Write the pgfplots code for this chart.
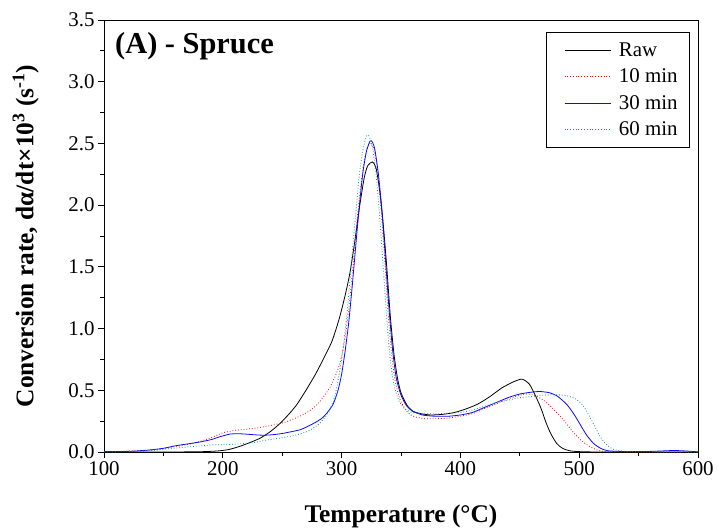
\documentclass[border=0pt]{standalone}
\usepackage{fontspec}
\setmainfont{Liberation Serif}
\usepackage{pgfplots}
\pgfplotsset{compat=1.18}
\definecolor{tealc}{RGB}{0,150,150}
\definecolor{blueline}{RGB}{10,10,255}
\begin{document}
\begin{tikzpicture}
\begin{axis}[
  scale only axis,
  width=594bp, height=432bp,
  xmin=100, xmax=600, ymin=0, ymax=3.5,
  xtick={100,200,...,600},
  ytick={0,0.5,...,3.5},
  minor x tick num=1, minor y tick num=1,
  tick pos=left,
  tick align=outside,
  major tick length=6bp, minor tick length=3.5bp,
  every tick/.style={black, line width=0.8pt},
  axis line style={line width=0.9pt},
  /pgf/number format/assume math mode=true,
  yticklabel style={/pgf/number format/.cd, fixed, fixed zerofill, precision=1},
  xticklabel style={/pgf/number format/.cd, fixed, precision=0},
  ticklabel style={font=\fontsize{21}{24}\selectfont},
  xlabel={\textbf{Temperature (°C)}},
  ylabel={\textbf{Conversion rate, dα/dt×10\textsuperscript{3} (s\textsuperscript{-1})}},
  label style={font=\fontsize{25.5}{28}\selectfont},
  xlabel style={at={(0.5,-0.15)}, anchor=center},
  ylabel style={at={(-0.132,0.5)}, anchor=center},
  legend style={at={(rel axis cs:0.9865,0.972)}, anchor=north east, draw=black, line width=0.8pt, font=\fontsize{21}{24}\selectfont, row sep=7.2bp, inner xsep=10bp, inner ysep=8bp},
  legend cell align=left,
  legend image code/.code={\path (-8bp,0bp); \draw[line width=1.1pt, #1] (0bp,0bp) -- (46bp,0bp); \path (52bp,0bp);},
  every axis plot/.append style={line width=0.8pt},
]
\addplot[black, smooth, tension=0.4, forget plot] coordinates {
(100,0) (150,0) (180,0.002) (195,0.008) (205,0.02) (215,0.048) (225,0.085) (232,0.115) (240,0.165) (248,0.23) (255,0.3) (262,0.38) (270,0.5) (278,0.63) (285,0.76) (292,0.9) (298,1.08) (303,1.27) (307,1.45) (311,1.7) (315,1.98) (319,2.22) (322,2.32) (326,2.35) (329,2.3) (332,2.12) (335,1.85) (338,1.5) (341,1.1) (344,0.8) (347,0.6) (350,0.48) (355,0.38) (360,0.33) (367,0.31) (375,0.30) (385,0.305) (395,0.32) (405,0.35) (415,0.39) (425,0.45) (435,0.52) (445,0.57) (452,0.59) (458,0.55) (463,0.46) (468,0.35) (472,0.24) (476,0.15) (481,0.07) (486,0.03) (492,0.01) (500,0.003) (520,0) (600,0)
};
\addplot[red, dotted, smooth, tension=0.4, forget plot] coordinates {
(100,0.003) (140,0.015) (160,0.045) (175,0.07) (190,0.115) (200,0.155) (210,0.175) (220,0.185) (232,0.2) (243,0.22) (252,0.24) (260,0.27) (267,0.3) (274,0.34) (280,0.39) (285,0.45) (290,0.52) (294,0.6) (298,0.7) (301,0.82) (304,1.0) (307,1.25) (310,1.55) (313,1.88) (316,2.15) (319,2.36) (322,2.47) (324,2.5) (327,2.46) (330,2.3) (333,2.0) (336,1.6) (339,1.15) (342,0.8) (345,0.58) (349,0.43) (354,0.34) (360,0.29) (370,0.27) (380,0.27) (390,0.275) (400,0.29) (410,0.31) (420,0.35) (430,0.39) (440,0.43) (450,0.46) (456,0.47) (462,0.46) (470,0.42) (477,0.36) (484,0.29) (490,0.22) (496,0.15) (502,0.09) (508,0.05) (514,0.02) (520,0.005) (540,0) (600,0)
};
\addplot[blueline, smooth, tension=0.4, forget plot] coordinates {
(100,0.003) (120,0.005) (130,0.01) (140,0.018) (150,0.03) (160,0.05) (170,0.065) (180,0.08) (190,0.1) (198,0.125) (206,0.145) (212,0.148) (218,0.146) (226,0.14) (234,0.136) (242,0.14) (250,0.15) (258,0.165) (265,0.18) (271,0.205) (277,0.235) (283,0.27) (288,0.32) (293,0.39) (297,0.5) (300,0.63) (303,0.82) (306,1.05) (309,1.35) (312,1.68) (315,2.0) (318,2.27) (321,2.44) (324,2.52) (326,2.51) (328,2.45) (331,2.25) (334,1.95) (337,1.55) (340,1.15) (343,0.82) (346,0.6) (350,0.46) (355,0.37) (360,0.33) (368,0.30) (378,0.29) (390,0.29) (400,0.30) (410,0.32) (420,0.36) (430,0.40) (440,0.44) (450,0.47) (460,0.485) (467,0.49) (475,0.48) (482,0.45) (490,0.38) (496,0.30) (501,0.22) (506,0.14) (512,0.07) (518,0.03) (524,0.01) (535,0.005) (560,0.005) (580,0.012) (595,0.005) (600,0)
};
\addplot[tealc, dotted, smooth, tension=0.4, forget plot] coordinates {
(100,0) (130,0.005) (150,0.022) (170,0.04) (190,0.057) (210,0.063) (225,0.075) (237,0.097) (250,0.115) (262,0.138) (272,0.17) (280,0.22) (285,0.27) (290,0.34) (294,0.44) (297,0.58) (300,0.75) (303,0.98) (306,1.28) (309,1.62) (312,1.95) (315,2.25) (318,2.45) (321,2.56) (323,2.56) (326,2.47) (329,2.25) (332,1.92) (335,1.5) (338,1.08) (341,0.75) (344,0.55) (348,0.42) (353,0.35) (360,0.32) (370,0.31) (380,0.31) (390,0.315) (400,0.32) (410,0.34) (420,0.37) (430,0.40) (440,0.42) (450,0.44) (460,0.45) (470,0.46) (480,0.465) (490,0.455) (497,0.43) (503,0.38) (508,0.30) (513,0.21) (518,0.12) (523,0.06) (528,0.025) (535,0.008) (550,0.002) (600,0)
};
\addlegendimage{color=black, draw=black, solid}
\addlegendentry{Raw}
\addlegendimage{color=red, draw=red, dotted}
\addlegendentry{10 min}
\addlegendimage{color=blueline, draw=blueline, solid}
\addlegendentry{30 min}
\addlegendimage{color=tealc, draw=tealc, dotted}
\addlegendentry{60 min}
\node[anchor=north west, font=\fontsize{30.5}{33}\selectfont\bfseries, inner sep=0pt] at ([shift={(11bp,-12bp)}]rel axis cs:0,1) {(A) - Spruce};
\end{axis}
\path ([shift={(-104bp,-79bp)}]current axis.south west) rectangle ([shift={(20bp,20bp)}]current axis.north east);
\end{tikzpicture}
\end{document}
